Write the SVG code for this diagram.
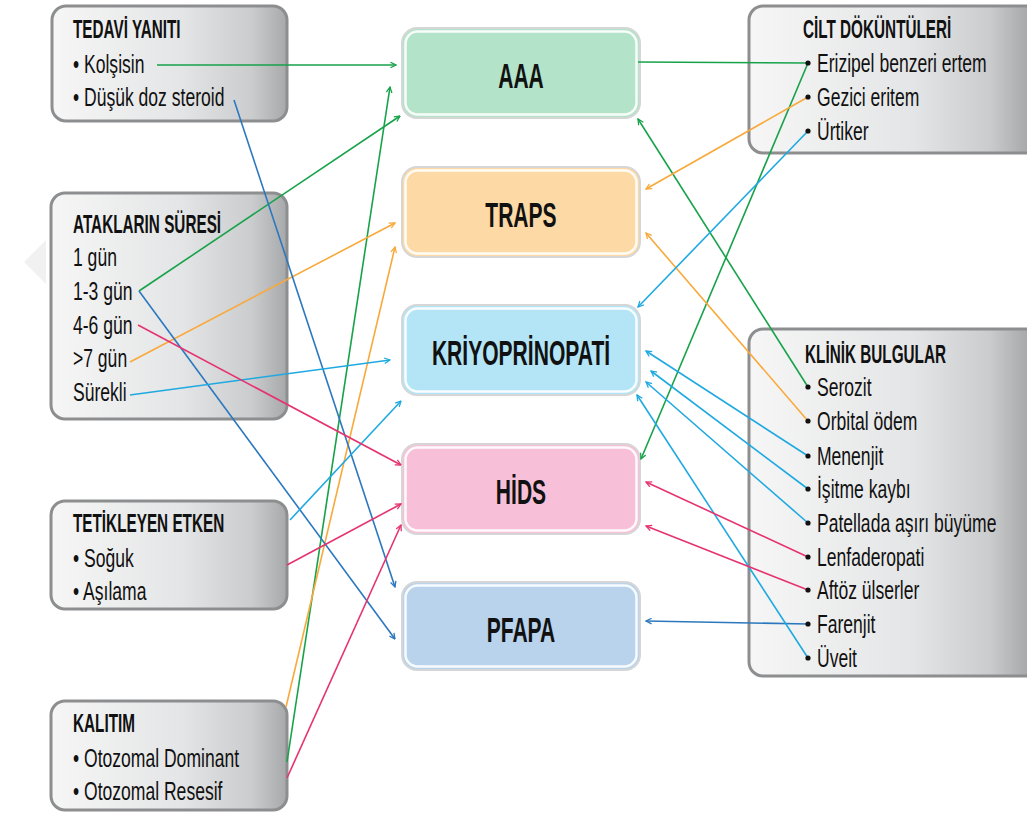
<svg xmlns="http://www.w3.org/2000/svg" width="1027" height="814" viewBox="0 0 1027 814">
  <defs>
    <linearGradient id="boxGrad" x1="0" y1="0" x2="1" y2="0">
      <stop offset="0" stop-color="#f6f6f6"/>
      <stop offset="0.55" stop-color="#e4e5e6"/>
      <stop offset="0.85" stop-color="#cbcccd"/>
      <stop offset="1" stop-color="#a7a8aa"/>
    </linearGradient>
    <linearGradient id="boxGradWide" x1="749" y1="0" x2="1049" y2="0" gradientUnits="userSpaceOnUse">
      <stop offset="0" stop-color="#f6f6f6"/>
      <stop offset="0.55" stop-color="#e4e5e6"/>
      <stop offset="0.8" stop-color="#cbcccd"/>
      <stop offset="0.93" stop-color="#a7a8aa"/>
    </linearGradient>
    <marker id="arrG" viewBox="0 0 10 10" refX="9" refY="5" markerWidth="7" markerHeight="7" orient="auto" markerUnits="userSpaceOnUse">
      <path d="M1,1 L9,5 L1,9" fill="none" stroke="#17a24a" stroke-width="1.8"/>
    </marker>
    <marker id="arrO" viewBox="0 0 10 10" refX="9" refY="5" markerWidth="7" markerHeight="7" orient="auto" markerUnits="userSpaceOnUse">
      <path d="M1,1 L9,5 L1,9" fill="none" stroke="#f9a93b" stroke-width="1.8"/>
    </marker>
    <marker id="arrB" viewBox="0 0 10 10" refX="9" refY="5" markerWidth="7" markerHeight="7" orient="auto" markerUnits="userSpaceOnUse">
      <path d="M1,1 L9,5 L1,9" fill="none" stroke="#2c78be" stroke-width="1.8"/>
    </marker>
    <marker id="arrC" viewBox="0 0 10 10" refX="9" refY="5" markerWidth="7" markerHeight="7" orient="auto" markerUnits="userSpaceOnUse">
      <path d="M1,1 L9,5 L1,9" fill="none" stroke="#1fa9e1" stroke-width="1.8"/>
    </marker>
    <marker id="arrP" viewBox="0 0 10 10" refX="9" refY="5" markerWidth="7" markerHeight="7" orient="auto" markerUnits="userSpaceOnUse">
      <path d="M1,1 L9,5 L1,9" fill="none" stroke="#e6336f" stroke-width="1.8"/>
    </marker>
  </defs>
  <style>
    .gbox { fill: url(#boxGrad); stroke: #8d8e90; stroke-width: 3; }
    .gboxw { fill: url(#boxGradWide); stroke: #8d8e90; stroke-width: 3; }
    .ttl { font-family: "Liberation Sans", Arial, sans-serif; font-weight: bold; font-size: 25.5px; fill: #111;
           transform: scaleX(0.6); transform-box: fill-box; transform-origin: 0 0; }
    .itm { font-family: "Liberation Sans", Arial, sans-serif; font-size: 26px; fill: #111;
           transform: scaleX(0.675); transform-box: fill-box; transform-origin: 0 0; }
    .lbl { font-family: "Liberation Sans", Arial, sans-serif; font-weight: bold; font-size: 36px; fill: #111; text-anchor: middle;
           transform: scaleX(0.585); transform-box: fill-box; transform-origin: 50% 50%; }
    .outer { stroke: #d6d6d6; stroke-width: 2; }
    .inner { fill: none; stroke: #ffffff; stroke-width: 2.5; opacity: 0.9; }
    .ln { fill: none; stroke-width: 1.6; }
    .g { stroke: #17a24a; }
    .o { stroke: #f9a93b; }
    .b { stroke: #2c78be; }
    .c { stroke: #1fa9e1; }
    .p { stroke: #e6336f; }
    .dot { fill: #111; }
  </style>

  <rect width="1027" height="814" fill="#ffffff"/>
  <!-- faint page mark behind the left column -->
  <polygon points="24,262 46,240 46,284" fill="#f1f1f1"/>

  <!-- left-hand category boxes -->
  <g id="tedavi-yaniti">
    <rect class="gbox" x="52" y="6" width="235" height="115" rx="14"/>
    <text class="ttl" x="73" y="38">TEDAVİ YANITI</text>
    <text class="itm" x="73" y="73">• Kolşisin</text>
    <text class="itm" x="73" y="106">• Düşük doz steroid</text>
  </g>
  <g id="ataklarin-suresi">
    <rect class="gbox" x="51" y="193" width="236" height="226" rx="14"/>
    <text class="ttl" x="73" y="233">ATAKLARIN SÜRESİ</text>
    <text class="itm" x="73" y="266">1 gün</text>
    <text class="itm" x="73" y="300">1-3 gün</text>
    <text class="itm" x="73" y="334">4-6 gün</text>
    <text class="itm" x="73" y="367">&gt;7 gün</text>
    <text class="itm" x="73" y="401">Sürekli</text>
  </g>
  <g id="tetikleyen-etken">
    <rect class="gbox" x="51" y="501" width="236" height="108" rx="14"/>
    <text class="ttl" x="73" y="532">TETİKLEYEN ETKEN</text>
    <text class="itm" x="73" y="567">• Soğuk</text>
    <text class="itm" x="73" y="600">• Aşılama</text>
  </g>
  <g id="kalitim">
    <rect class="gbox" x="51" y="701" width="236" height="109" rx="14"/>
    <text class="ttl" x="73" y="732">KALITIM</text>
    <text class="itm" x="73" y="767">• Otozomal Dominant</text>
    <text class="itm" x="73" y="800">• Otozomal Resesif</text>
  </g>

  <!-- right-hand category boxes -->
  <g id="cilt-dokuntuleri">
    <rect class="gboxw" x="749" y="6" width="300" height="147" rx="14"/>
    <text class="ttl" x="803" y="38">CİLT DÖKÜNTÜLERİ</text>
    <text class="itm" x="817" y="72">Erizipel benzeri ertem</text>
    <text class="itm" x="817" y="106">Gezici eritem</text>
    <text class="itm" x="817" y="140">Ürtiker</text>
  </g>
  <g id="klinik-bulgular">
    <rect class="gboxw" x="749" y="329" width="300" height="347" rx="14"/>
    <text class="ttl" x="805" y="363">KLİNİK BULGULAR</text>
    <text class="itm" x="817" y="396">Serozit</text>
    <text class="itm" x="817" y="430">Orbital ödem</text>
    <text class="itm" x="817" y="465">Menenjit</text>
    <text class="itm" x="817" y="498">İşitme kaybı</text>
    <text class="itm" x="817" y="532">Patellada aşırı büyüme</text>
    <text class="itm" x="817" y="566">Lenfaderopati</text>
    <text class="itm" x="817" y="599">Aftöz ülserler</text>
    <text class="itm" x="817" y="633">Farenjit</text>
    <text class="itm" x="817" y="667">Üveit</text>
  </g>

  <!-- central disease boxes -->
  <g id="aaa">
    <rect class="outer" x="402" y="28" width="238" height="90" rx="15" fill="#b3e3c9"/>
    <rect class="inner" x="405.5" y="31.5" width="231" height="83" rx="12"/>
    <text class="lbl" x="521" y="88">AAA</text>
  </g>
  <g id="traps">
    <rect class="outer" x="402" y="167" width="238" height="90" rx="15" fill="#fdd9a6"/>
    <rect class="inner" x="405.5" y="170.5" width="231" height="83" rx="12"/>
    <text class="lbl" x="521" y="227">TRAPS</text>
  </g>
  <g id="kriyoprinopati">
    <rect class="outer" x="402" y="305" width="238" height="90" rx="15" fill="#b3e5f7"/>
    <rect class="inner" x="405.5" y="308.5" width="231" height="83" rx="12"/>
    <text class="lbl" x="521" y="365">KRİYOPRİNOPATİ</text>
  </g>
  <g id="hids">
    <rect class="outer" x="402" y="444" width="238" height="90" rx="15" fill="#f8c0d8"/>
    <rect class="inner" x="405.5" y="447.5" width="231" height="83" rx="12"/>
    <text class="lbl" x="521" y="504">HİDS</text>
  </g>
  <g id="pfapa">
    <rect class="outer" x="402" y="582" width="238" height="88" rx="15" fill="#b8d3eb"/>
    <rect class="inner" x="405.5" y="585.5" width="231" height="81" rx="12"/>
    <text class="lbl" x="521" y="642">PFAPA</text>
  </g>

  <!-- connectors -->
  <g id="connectors">
    <path class="ln g" d="M157,65 L396,65" marker-end="url(#arrG)"/>
    <path class="ln g" d="M139,291 L400,116" marker-end="url(#arrG)"/>
    <path class="ln g" d="M287,762 L390,87" marker-end="url(#arrG)"/>
    <path class="ln g" d="M808,63 L641,459" marker-end="url(#arrG)"/>
    <path class="ln g" d="M638,62 L808,63"/>
    <path class="ln g" d="M808,387 L638,119" marker-end="url(#arrG)"/>

    <path class="ln o" d="M130,362 L395,223" marker-end="url(#arrO)"/>
    <path class="ln o" d="M286,707 L395,247" marker-end="url(#arrO)"/>
    <path class="ln o" d="M808,97 L646,189" marker-end="url(#arrO)"/>
    <path class="ln o" d="M808,421 L646,233" marker-end="url(#arrO)"/>

    <path class="ln b" d="M234,100 L395,587" marker-end="url(#arrB)"/>
    <path class="ln b" d="M139,291 L395,639" marker-end="url(#arrB)"/>
    <path class="ln b" d="M808,624 L646,621" marker-end="url(#arrB)"/>

    <path class="ln c" d="M130,395 L390,360" marker-end="url(#arrC)"/>
    <path class="ln c" d="M290,520 L401,401" marker-end="url(#arrC)"/>
    <path class="ln c" d="M808,131 L638,307" marker-end="url(#arrC)"/>
    <path class="ln c" d="M808,456 L646,351" marker-end="url(#arrC)"/>
    <path class="ln c" d="M808,489 L651,371" marker-end="url(#arrC)"/>
    <path class="ln c" d="M808,523 L646,382" marker-end="url(#arrC)"/>
    <path class="ln c" d="M808,658 L637,395" marker-end="url(#arrC)"/>

    <path class="ln p" d="M138,325 L401,465" marker-end="url(#arrP)"/>
    <path class="ln p" d="M287,565 L401,504" marker-end="url(#arrP)"/>
    <path class="ln p" d="M287,778 L401,525" marker-end="url(#arrP)"/>
    <path class="ln p" d="M808,557 L646,482" marker-end="url(#arrP)"/>
    <path class="ln p" d="M808,590 L646,526" marker-end="url(#arrP)"/>

    <!-- bullet dots where connectors meet the right-hand items -->
    <circle class="dot" cx="808" cy="63" r="2.6"/>
    <circle class="dot" cx="808" cy="97" r="2.6"/>
    <circle class="dot" cx="808" cy="131" r="2.6"/>
    <circle class="dot" cx="808" cy="387" r="2.6"/>
    <circle class="dot" cx="808" cy="421" r="2.6"/>
    <circle class="dot" cx="808" cy="456" r="2.6"/>
    <circle class="dot" cx="808" cy="489" r="2.6"/>
    <circle class="dot" cx="808" cy="523" r="2.6"/>
    <circle class="dot" cx="808" cy="557" r="2.6"/>
    <circle class="dot" cx="808" cy="590" r="2.6"/>
    <circle class="dot" cx="808" cy="624" r="2.6"/>
    <circle class="dot" cx="808" cy="658" r="2.6"/>
  </g>
</svg>
